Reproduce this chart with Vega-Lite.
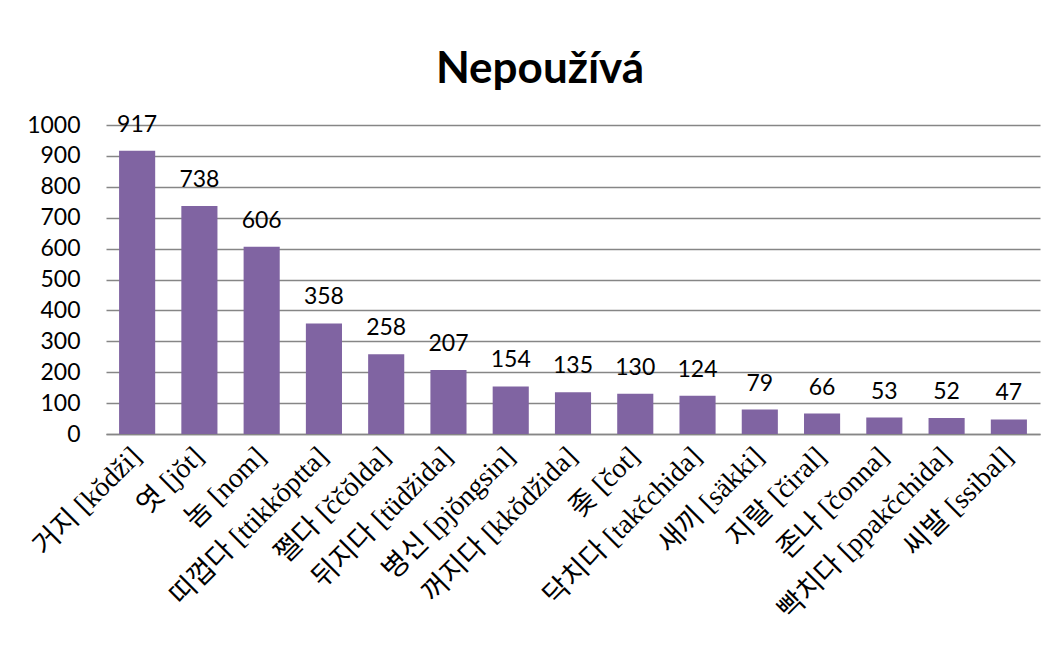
{
  "$schema": "https://vega.github.io/schema/vega-lite/v6.json",
  "width": 934,
  "height": 309,
  "autosize": {"type": "none"},
  "padding": {"left": 106, "top": 125, "right": 19, "bottom": 212},
  "background": "white",
  "title": {
    "text": "Nepoužívá",
    "font": "Lato",
    "fontSize": 44,
    "fontWeight": "bold",
    "color": "#000000",
    "anchor": "middle",
    "frame": "group",
    "dx": -33,
    "baseline": "alphabetic",
    "offset": -13
  },
  "data": {
    "values": [
      {"slovo": "거지 [kŏdži]", "pocet": 917},
      {"slovo": "엿 [jŏt]", "pocet": 738},
      {"slovo": "놈 [nom]", "pocet": 606},
      {"slovo": "띠껍다 [ttikkŏptta]", "pocet": 358},
      {"slovo": "쩔다 [ččŏlda]", "pocet": 258},
      {"slovo": "뒤지다 [tüdžida]", "pocet": 207},
      {"slovo": "병신 [pjŏngsin]", "pocet": 154},
      {"slovo": "꺼지다 [kkŏdžida]", "pocet": 135},
      {"slovo": "좆 [čot]", "pocet": 130},
      {"slovo": "닥치다 [takčchida]", "pocet": 124},
      {"slovo": "새끼 [säkki]", "pocet": 79},
      {"slovo": "지랄 [čiral]", "pocet": 66},
      {"slovo": "존나 [čonna]", "pocet": 53},
      {"slovo": "빡치다 [ppakčchida]", "pocet": 52},
      {"slovo": "씨발 [ssibal]", "pocet": 47}
    ]
  },
  "encoding": {
    "x": {
      "field": "slovo",
      "type": "nominal",
      "sort": null,
      "title": null,
      "scale": {"paddingInner": 0.42, "paddingOuter": 0.21},
      "axis": {
        "labelAngle": -45,
        "labelAlign": "right",
        "labelBaseline": "middle",
        "labelFont": "Liberation Serif, Noto Sans CJK KR",
        "labelFontSize": 28,
        "labelColor": "#000000",
        "labelPadding": 18,
        "labelLimit": 400,
        "ticks": false,
        "domainColor": "#868686",
        "domainWidth": 1.5,
        "grid": false
      }
    },
    "y": {
      "field": "pocet",
      "type": "quantitative",
      "title": null,
      "scale": {"domain": [0, 1000], "nice": false},
      "axis": {
        "values": [0, 100, 200, 300, 400, 500, 600, 700, 800, 900, 1000],
        "format": "d",
        "labelFont": "Lato",
        "labelFontSize": 23,
        "labelColor": "#000000",
        "labelPadding": 26,
        "ticks": false,
        "domain": false,
        "grid": true,
        "gridColor": "#868686",
        "gridWidth": 1.5
      }
    }
  },
  "layer": [
    {"mark": {"type": "bar", "color": "#8064A2"}},
    {
      "mark": {"type": "text", "font": "Lato", "fontSize": 23, "color": "#000000", "baseline": "alphabetic", "dy": -19},
      "encoding": {"text": {"field": "pocet", "type": "quantitative"}}
    }
  ],
  "config": {"view": {"stroke": null}}
}
